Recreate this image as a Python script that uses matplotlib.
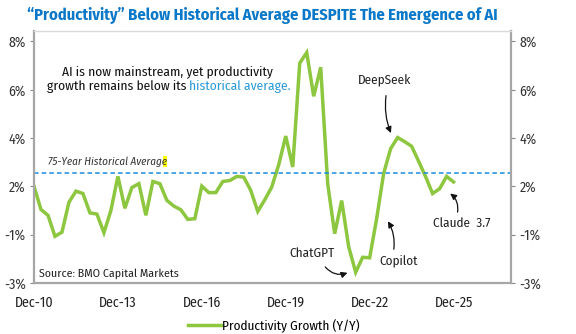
import matplotlib
matplotlib.use('Agg')
import matplotlib.pyplot as plt
from matplotlib.patches import Rectangle

plt.rcParams['font.family'] = ['Fira Sans Condensed', 'DejaVu Sans']

# quarterly productivity growth, Dec-10 onwards (axis units)
growth = [2.0, 1.04, 0.8, -0.07, 0.1, 1.34, 1.8, 1.7, 0.9, 0.85,
          0.08, 1.0, 2.41, 1.09, 1.95, 2.11, 0.8, 2.2, 2.11, 1.42,
          1.18, 1.03, 0.63, 0.66, 2.01, 1.74, 1.74, 2.2, 2.24, 2.41,
          2.38, 1.83, 0.96, 1.44, 1.97, 2.9, 4.08, 2.8, 7.1, 7.54,
          5.73, 6.93, 2.11, 0.04, 1.41, -0.5, -1.56, -0.94, -0.96, 0.66,
          2.53, 3.56, 4.02, 3.85, 3.66, 3.04, 2.4, 1.7, 1.9, 2.41, 2.18]
hist_avg = 2.57

x_ticks = [0, 12, 24, 36, 48, 60]
x_labels = ['Dec-10', 'Dec-13', 'Dec-16', 'Dec-19', 'Dec-22', 'Dec-25']
y_ticks = [8, 6, 4, 2, 0, -2]
y_labels = ['8%', '6%', '4%', '2%', '-1%', '-3%']

# (label, text x, text y, arrow start x, y, arrow end x, y, curvature)
notes = [
    ('DeepSeek', 50.2, 6.36, 50.4, 5.87, 51.2, 4.1, 0.15),
    ('ChatGPT', 39.7, -0.76, 41.4, -1.25, 45.2, -1.54, 0.4),
    ('Copilot', 52.1, -1.09, 51.4, -0.72, 50.4, 0.65, 0.2),
    ('Claude  3.7', 61.2, 0.48, 60.5, 0.82, 59.2, 1.77, 0.35),
]

green = '#8dc63f'
blue = '#1b8be0'

fig = plt.figure(figsize=(5.76, 3.34), dpi=100)
ax = fig.add_axes([0.059, 0.153, 0.828, 0.754])

ax.plot(range(len(growth)), growth, color=green, lw=2.5, solid_joinstyle='miter',
        label='Productivity Growth (Y/Y)')
ax.axhline(hist_avg, color=blue, lw=1.1, ls=(0, (3, 2)))

ax.set_xlim(0, 68.2)
ax.set_ylim(-2, 8.43)
ax.set_xticks(x_ticks)
ax.set_xticklabels(x_labels, fontsize=10, color='#222222')
ax.tick_params(axis='x', length=0, pad=9)
ax.set_yticks(y_ticks)
ax.set_yticklabels(y_labels, fontsize=10, color='#333333')
ax.tick_params(axis='y', length=3, color='#888888', pad=3,
               labelleft=True, labelright=True, left=True, right=True)

for side in ['left', 'right', 'bottom']:
    ax.spines[side].set_color('#a6a6a6')
    ax.spines[side].set_linewidth(1.6)
ax.spines['top'].set_color('#d9d9d9')
ax.spines['top'].set_linewidth(1.0)

fig.text(0.456, 0.955, '\u201cProductivity\u201d Below Historical Average DESPITE The Emergence of AI',
         ha='center', va='center', fontsize=11.8, fontweight='bold', color='#0a78c8')

ax.text(19.1, 6.74, 'AI is now mainstream, yet productivity', ha='center', va='center',
        fontsize=9.7, color='#111111')
ax.text(21.75, 6.12, 'growth remains below its', ha='right', va='center',
        fontsize=9.7, color='#111111')
ax.text(22.1, 6.12, 'historical average.', ha='left', va='center',
        fontsize=9.7, color='#2a9ad6')

ax.text(1.96, 3.02, '75-Year Historical Average', ha='left', va='center',
        fontsize=8.0, style='italic', color='#333333')
ax.add_patch(Rectangle((18.4, 2.8), 0.55, 0.46, color='#ffff00', lw=0))

ax.text(0.67, -1.63, 'Source: BMO Capital Markets', ha='left', va='center',
        fontsize=8.5, color='#222222')

for label, tx, ty, sx, sy, ex, ey, rad in notes:
    ax.text(tx, ty, label, ha='center', va='center', fontsize=9.5, color='#222222')
    ax.annotate('', xy=(ex, ey), xytext=(sx, sy),
                arrowprops=dict(arrowstyle='-|>', color='#111111', lw=0.9,
                                mutation_scale=9,
                                connectionstyle='arc3,rad=%s' % rad))

fig.legend(loc='center', bbox_to_anchor=(0.475, 0.024), frameon=False,
           fontsize=9.5, handlelength=2.6, handletextpad=0.0)

fig.savefig('out.png', dpi=100)
